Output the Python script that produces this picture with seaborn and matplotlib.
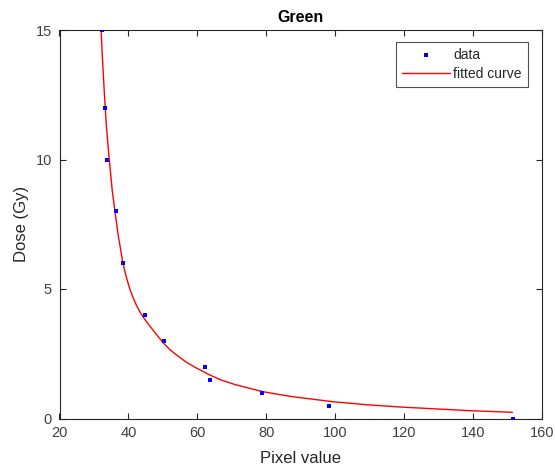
import matplotlib
matplotlib.use("Agg")
import matplotlib.pyplot as plt
import seaborn as sns
import pandas as pd

# measured data points
pixel_values = [32.25, 33.3, 33.7, 36.4, 38.35, 44.9, 50.4, 62.15, 63.75, 78.85, 98.1, 151.5]
dose_values = [15, 12, 10, 8, 6, 4, 3, 2, 1.5, 1, 0.5, 0]

# fitted curve, points
curve_x = [32.1, 32.5, 33.0, 33.6, 34.3, 35.3, 36.1, 37.0, 38.4, 39.3, 40.4, 41.3,
           42.4, 43.6, 45.0, 47.2, 50.1, 52.0, 54.0, 56.5, 59.3, 63.6, 67.0,
           71.2, 79.2, 87.2, 99.2, 109.3, 119.3, 129.3, 139.4, 151.4]
curve_y = [14.9, 13.8, 12.6, 11.3, 10.2, 8.8, 8.0, 7.1, 6.0, 5.5, 5.0, 4.68,
           4.35, 4.05, 3.78, 3.4, 2.92, 2.66, 2.45, 2.2, 1.98, 1.68, 1.48,
           1.3, 1.03, 0.85, 0.65, 0.53, 0.44, 0.37, 0.30, 0.24]

x_ticks = [20, 40, 60, 80, 100, 120, 140, 160]
y_ticks = [0, 5, 10, 15]

sns.set_style("ticks")
plt.rcParams["font.family"] = ["Liberation Sans", "DejaVu Sans"]

df_pts = pd.DataFrame({"x": pixel_values, "y": dose_values})
df_curve = pd.DataFrame({"x": curve_x, "y": curve_y})

fig = plt.figure(figsize=(5.55, 4.67), dpi=100)
ax = fig.add_axes([59.5 / 555, 48.5 / 467, 482.5 / 555, 388.5 / 467])

sns.lineplot(data=df_curve, x="x", y="y", ax=ax, color="#ff0000", linewidth=1.0,
             sort=False, estimator=None, label="fitted curve", zorder=2)
sns.scatterplot(data=df_pts, x="x", y="y", ax=ax, color="#0000ff", marker="s",
                s=9, linewidth=0, label="data", zorder=3)

ax.set_xlim(20, 160)
ax.set_ylim(0, 15)
ax.set_xticks(x_ticks)
ax.set_yticks(y_ticks)
ax.tick_params(direction="in", length=4, width=0.8, top=True, right=True,
               labelsize=10.5, colors="#262626", labelcolor="#404040", pad=5.5)
for sp in ax.spines.values():
    sp.set_color("#262626")
    sp.set_linewidth(0.8)

ax.set_xlabel("Pixel value", fontsize=12, color="#262626", labelpad=8)
ax.set_ylabel("Dose (Gy)", fontsize=12, color="#262626", labelpad=5)
ax.set_title("Green", fontsize=11.5, fontweight="bold", color="black", pad=6)

handles, labels = ax.get_legend_handles_labels()
order = [labels.index("data"), labels.index("fitted curve")]
leg = ax.legend([handles[i] for i in order], [labels[i] for i in order],
                loc="upper right", bbox_to_anchor=(1 - 14 / 482.5, 1 - 11.7 / 388.5),
                borderaxespad=0, frameon=True, fancybox=False, fontsize=10,
                handlelength=3.5, handletextpad=0.2, labelspacing=0.35,
                borderpad=0.45, edgecolor="#262626", markerscale=1.0)
leg.get_frame().set_linewidth(0.8)

fig.savefig("out.png", dpi=100)
